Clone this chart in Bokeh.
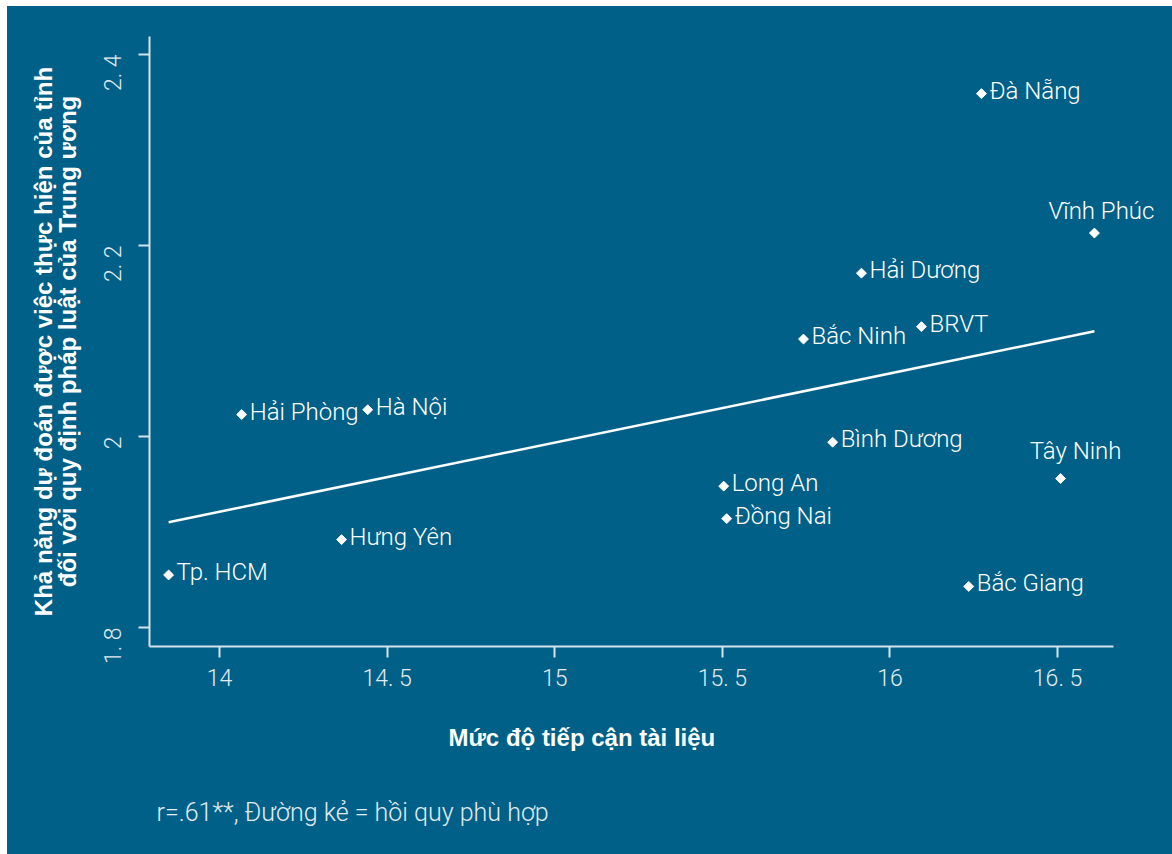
import math
import numpy as np
from bokeh.plotting import figure
from bokeh.models import Range1d, FixedTicker, Title, ColumnDataSource, LinearAxis
from bokeh.core.properties import value
from bokeh.embed import file_html
from bokeh.resources import INLINE

# ---- data ----
provinces = ["Tp. HCM", "Hải Phòng", "Hà Nội", "Hưng Yên", "Long An", "Đồng Nai",
             "Bắc Ninh", "Bình Dương", "Hải Dương", "BRVT", "Đà Nẵng", "Bắc Giang",
             "Tây Ninh", "Vĩnh Phúc"]
access = [13.848, 14.066, 14.442, 14.364, 15.504, 15.513, 15.742, 15.829,
          15.915, 16.094, 16.273, 16.235, 16.509, 16.610]
predictability = [1.855, 2.023, 2.028, 1.892, 1.948, 1.914, 2.102, 1.994,
                  2.171, 2.115, 2.359, 1.843, 1.956, 2.213]
x_ticks = [14, 14.5, 15, 15.5, 16, 16.5]
x_tick_labels = ["14", "14. 5", "15", "15. 5", "16", "16. 5"]
y_ticks = [1.8, 2.0, 2.2, 2.4]
y_tick_labels = ["1. 8", "2", "2. 2", "2. 4"]
x_title = "Mức độ tiếp cận tài liệu"
y_title_lines = ["Khả năng dự đoán được việc thực hiện của tỉnh",
                 "đối với quy định pháp luật của Trung ương"]
footnote = "r=.61**, Đường kẻ = hồi quy phù hợp"

# ---- styles ----
BG = "#006087"
AXIS = "#d3e4ee"
TICKTXT = "#e2edf3"
LIGHT = "Roboto Light"
BOLD = "Liberation Sans"

# label placement (style): default right of point; some above
label_align = ["left"] * len(provinces)
label_dx = [8] * len(provinces)
label_dy = [-3] * len(provinces)
for name, al, dx, dy in [("Vĩnh Phúc", "center", 7, -22), ("Tây Ninh", "center", 15, -28)]:
    i = provinces.index(name)
    label_align[i], label_dx[i], label_dy[i] = al, dx, dy

p = figure(width=1165, height=848, output_backend="svg", toolbar_location=None,
           x_range=Range1d(13.791, 16.831), y_range=Range1d(1.7801, 2.4188),
           min_border_left=142, min_border_right=4, min_border_top=30, min_border_bottom=208)
p.margin = (6, 0, 0, 7)
p.styles = {"background-color": BG}
p.background_fill_color = BG
p.border_fill_color = BG
p.outline_line_color = None
p.grid.grid_line_color = None

for ax in (p.xaxis[0], p.yaxis[0]):
    ax.axis_line_color = AXIS
    ax.axis_line_width = 2
    ax.major_tick_line_color = AXIS
    ax.major_tick_line_width = 2
    ax.major_tick_out = 11
    ax.major_tick_in = 0
    ax.minor_tick_line_color = None
    ax.major_label_text_color = TICKTXT
    ax.major_label_text_font = LIGHT
    ax.major_label_text_font_size = "23px"

p.xaxis.bounds = (13.791, 16.667)
p.xaxis.ticker = FixedTicker(ticks=x_ticks)
p.xaxis.major_label_overrides = {t: l for t, l in zip(x_ticks, x_tick_labels)}
p.xaxis.major_label_standoff = 7

p.yaxis.ticker = FixedTicker(ticks=y_ticks)
p.yaxis.major_label_overrides = {t: l for t, l in zip(y_ticks, y_tick_labels)}
p.yaxis.major_label_orientation = math.pi / 2
p.yaxis.major_label_standoff = 25
p.yaxis.axis_label = y_title_lines[1]
p.yaxis.axis_label_text_font = BOLD
p.yaxis.axis_label_text_font_style = "bold"
p.yaxis.axis_label_text_font_size = "24px"
p.yaxis.axis_label_text_color = "white"
p.yaxis.axis_label_standoff = 3

# outer (first) line of the y title carried by a bare extra axis
ya2 = LinearAxis(ticker=FixedTicker(ticks=[]), axis_label=y_title_lines[0],
                 axis_line_color=None, major_tick_line_color=None,
                 minor_tick_line_color=None, major_tick_out=0, major_tick_in=0,
                 minor_tick_out=0, minor_tick_in=0, major_label_standoff=0,
                 axis_label_standoff=-6, axis_label_text_font=BOLD,
                 axis_label_text_font_style="bold", axis_label_text_font_size="24px",
                 axis_label_text_color="white")
p.add_layout(ya2, "left")

# regression line
slope, intercept = np.polyfit(access, predictability, 1)
xl = np.array([min(access), max(access)])
p.line(xl, slope * xl + intercept, line_color="white", line_width=2.5)

src = ColumnDataSource(dict(x=access, y=predictability, name=provinces,
                            align=label_align, dx=label_dx, dy=label_dy))
p.scatter("x", "y", source=src, marker="square", angle=math.pi / 4, size=7,
          fill_color="white", line_color="white")
p.text("x", "y", text="name", source=src, x_offset="dx", y_offset="dy",
       text_align="align", text_baseline="middle", text_color="white",
       text_font=value(LIGHT), text_font_size="24px")

has_standoff = "standoff" in Title.properties()
t1 = Title(text=x_title, align="left", offset=299, text_color="white",
           text_font=BOLD, text_font_style="bold", text_font_size="24px")
t2 = Title(text=footnote, align="left", offset=7, text_color=TICKTXT,
           text_font=LIGHT, text_font_style="normal", text_font_size="25px")
if has_standoff:
    t1.standoff = 54
    t2.standoff = 37
p.add_layout(t1, "below")
p.add_layout(t2, "below")

open("out.html", "w").write(file_html(p, INLINE))
